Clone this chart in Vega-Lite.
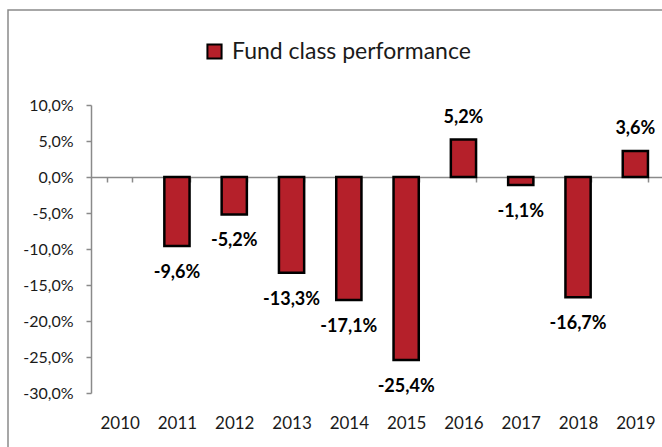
{
  "$schema": "https://vega.github.io/schema/vega-lite/v6.json",
  "autosize": {"type": "none"},
  "padding": {"left": 8, "top": 10, "right": 0, "bottom": 0},
  "width": 660,
  "height": 445,
  "background": "white",
  "config": {
    "locale": {"number": {"decimal": ",", "thousands": ".", "grouping": [3], "currency": ["", " €"], "minus": "-"}},
    "view": {"stroke": "#8a8a8a", "strokeWidth": 1.5},
    "font": "Lato"
  },
  "data": {
    "values": [
      {"year": "2011", "value": -0.096, "series": "Fund class performance"},
      {"year": "2012", "value": -0.052, "series": "Fund class performance"},
      {"year": "2013", "value": -0.133, "series": "Fund class performance"},
      {"year": "2014", "value": -0.171, "series": "Fund class performance"},
      {"year": "2015", "value": -0.254, "series": "Fund class performance"},
      {"year": "2016", "value": 0.052, "series": "Fund class performance"},
      {"year": "2017", "value": -0.011, "series": "Fund class performance"},
      {"year": "2018", "value": -0.167, "series": "Fund class performance"},
      {"year": "2019", "value": 0.036, "series": "Fund class performance"}
    ]
  },
  "encoding": {
    "x": {
      "field": "year", "type": "nominal", "sort": null,
      "scale": {"domain": ["2010", "2011", "2012", "2013", "2014", "2015", "2016", "2017", "2018", "2019"], "range": [83, 656], "paddingInner": 0.56, "paddingOuter": 0.28},
      "axis": {"orient": "bottom", "title": null, "offset": -278, "domainColor": "#8a8a8a", "domainWidth": 1.5, "tickColor": "#8a8a8a", "tickWidth": 1.5, "tickSize": 5, "tickBand": "extent", "labelPadding": 233, "labelAngle": 0, "labelFont": "Lato", "labelFontSize": 17, "labelColor": "#1a1a1a", "labelBaseline": "top"}
    },
    "y": {
      "field": "value", "type": "quantitative",
      "scale": {"domain": [-0.3, 0.1], "range": [383, 95], "nice": false, "zero": false}
    }
  },
  "layer": [
    {
      "mark": {"type": "bar", "stroke": "black", "strokeWidth": 2.5},
      "encoding": {
        "y": {
          "field": "value", "type": "quantitative",
          "axis": {"title": null, "offset": -83, "values": [-0.3, -0.25, -0.2, -0.15, -0.1, -0.05, 0, 0.05, 0.1], "format": ".1%", "grid": false, "domainColor": "#8a8a8a", "domainWidth": 1.5, "tickColor": "#8a8a8a", "tickWidth": 1.5, "tickSize": 5, "labelPadding": 13, "labelFont": "Lato", "labelFontSize": 16, "labelColor": "#1a1a1a"}
        },
        "y2": {"datum": 0},
        "fill": {
          "field": "series", "type": "nominal",
          "scale": {"range": ["#B5202A"]},
          "legend": {"title": null, "orient": "none", "legendX": 195, "legendY": 30, "symbolType": "square", "symbolSize": 200, "symbolStrokeColor": "black", "symbolStrokeWidth": 2, "symbolFillColor": "#B5202A", "labelFont": "Lato", "labelFontSize": 23, "labelColor": "#1a1a1a", "labelOffset": 6, "labelLimit": 500, "padding": 0}
        }
      }
    },
    {
      "transform": [{"filter": "datum.value > 0"}],
      "mark": {"type": "text", "dy": -22, "fontWeight": "bold", "fontSize": 18, "font": "Lato", "color": "black"},
      "encoding": {"text": {"field": "value", "type": "quantitative", "format": ".1%"}}
    },
    {
      "transform": [{"filter": "datum.value < 0"}],
      "mark": {"type": "text", "dy": 27, "fontWeight": "bold", "fontSize": 18, "font": "Lato", "color": "black"},
      "encoding": {"text": {"field": "value", "type": "quantitative", "format": ".1%"}}
    }
  ]
}
